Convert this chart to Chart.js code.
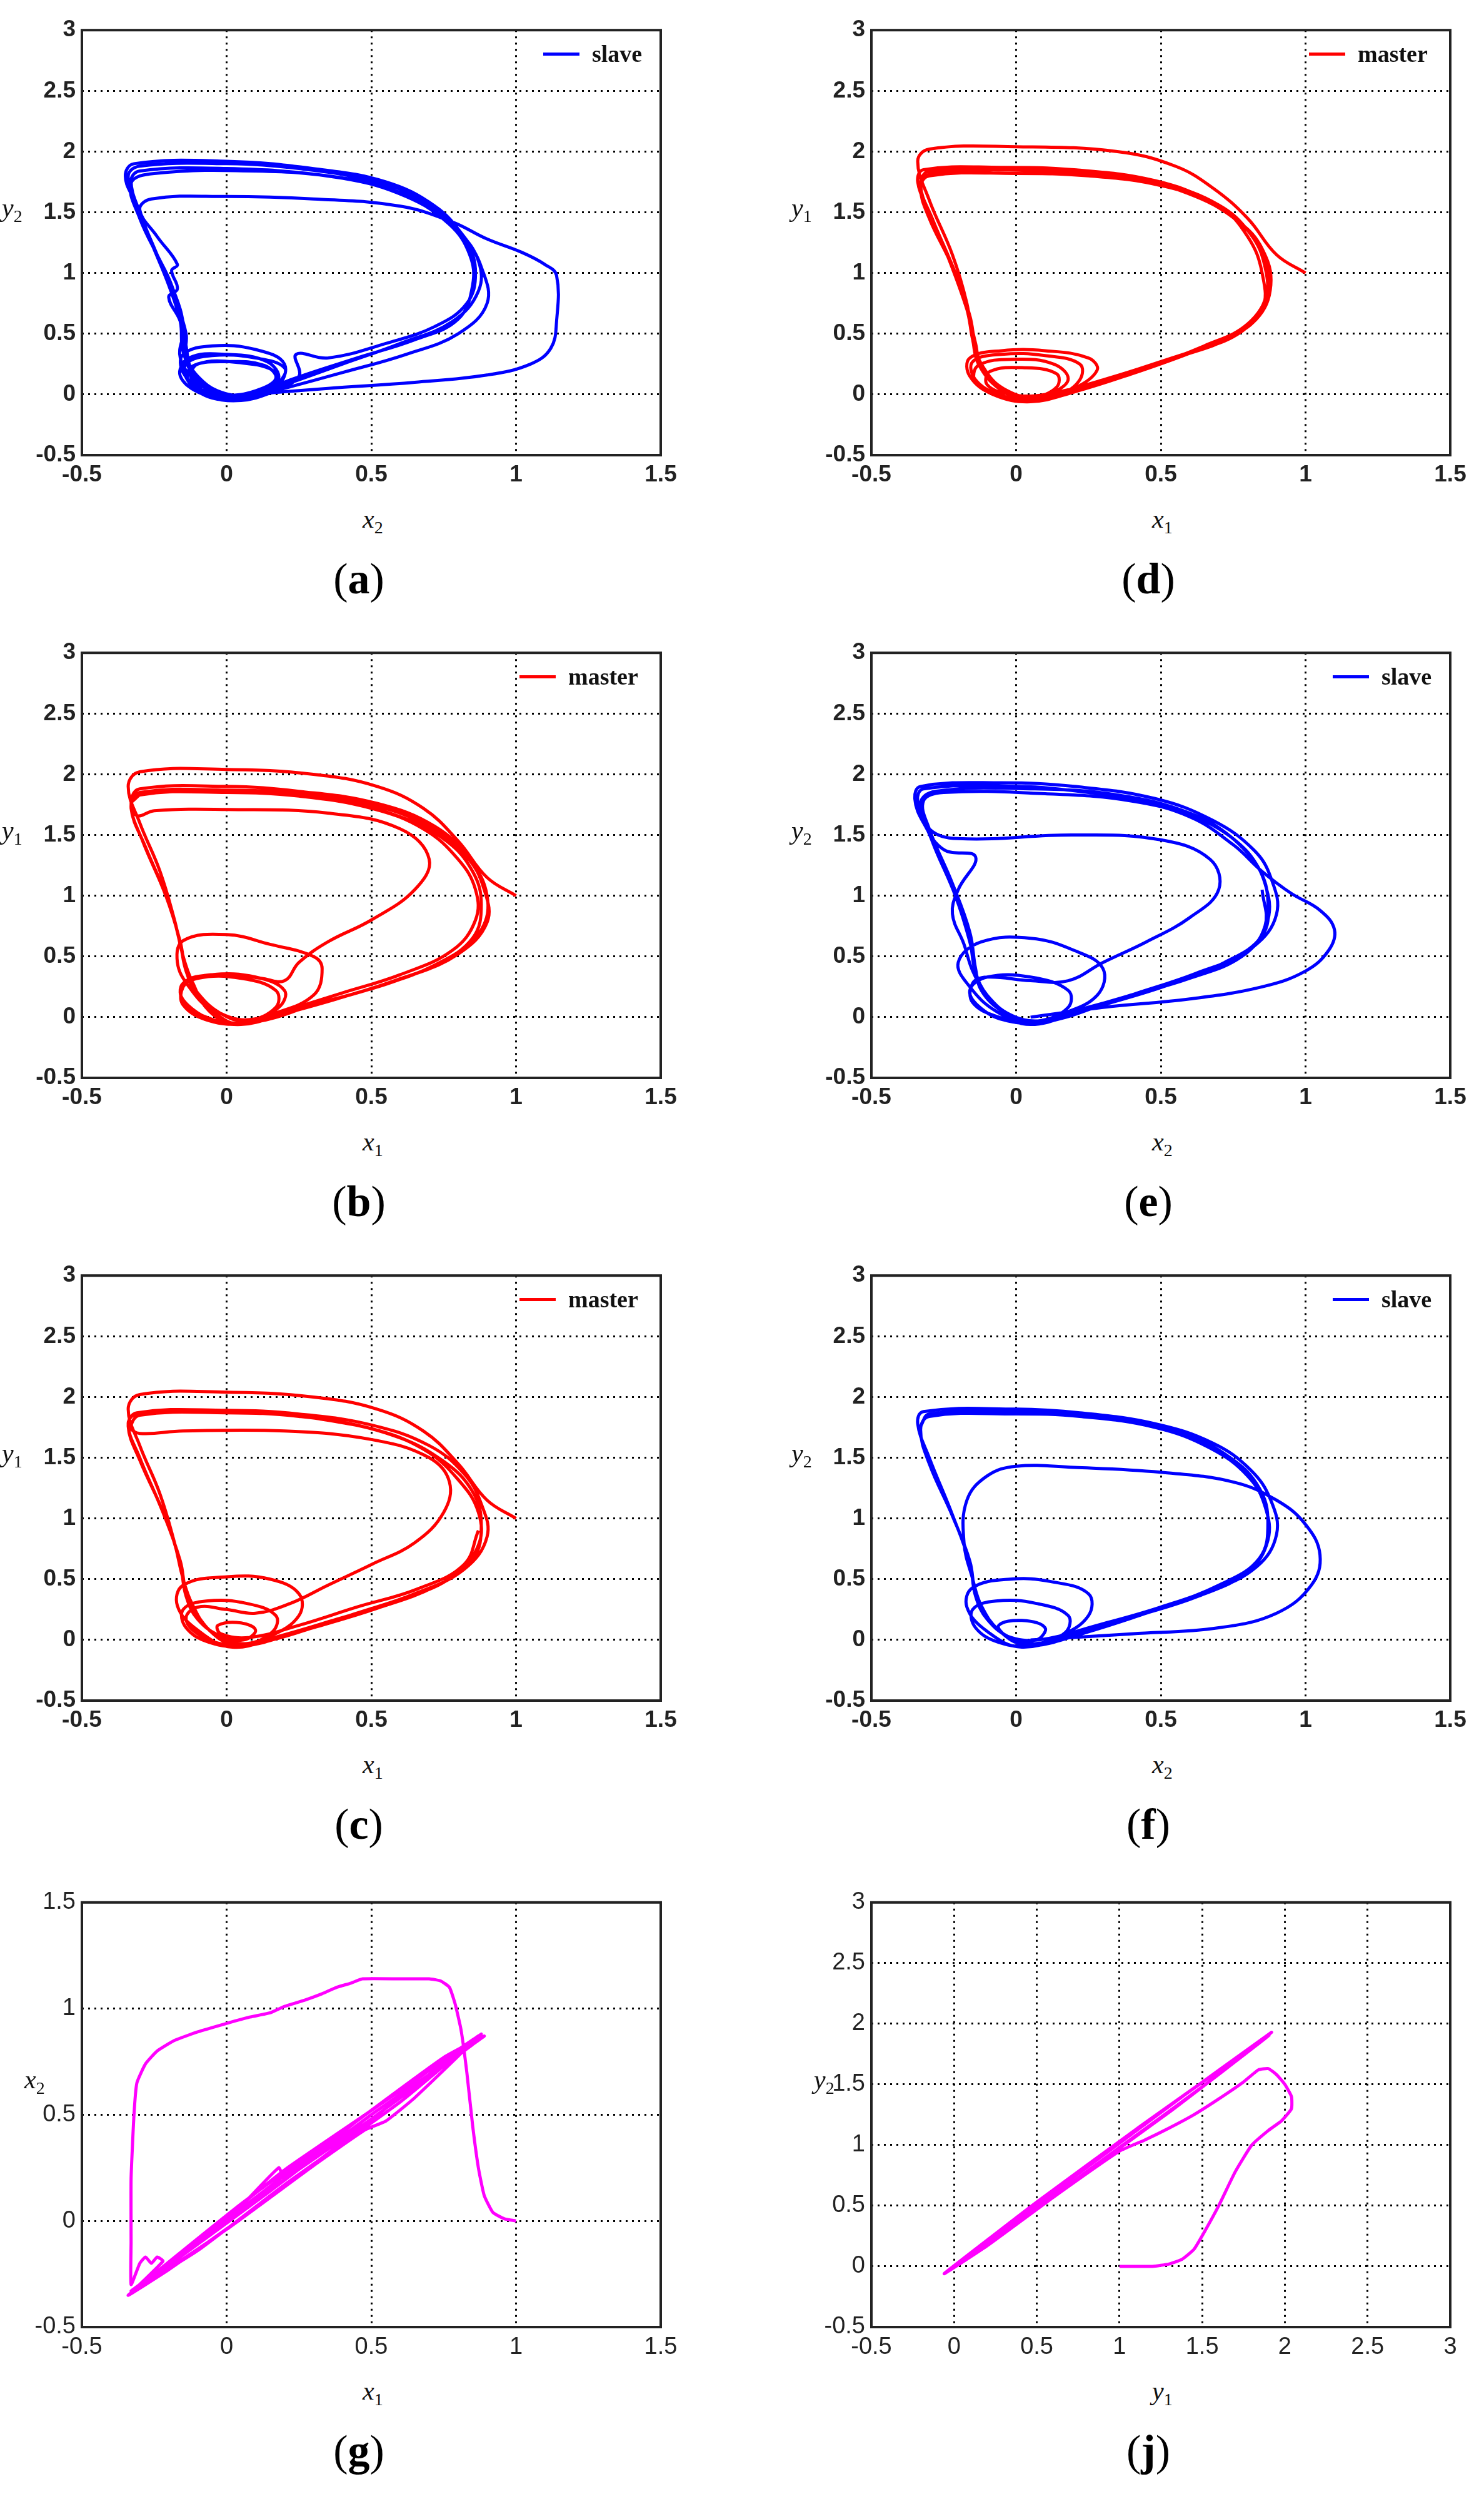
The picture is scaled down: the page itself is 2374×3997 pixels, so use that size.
<!DOCTYPE html>
<html>
<head>
<meta charset="utf-8">
<script src="https://cdn.jsdelivr.net/npm/chart.js"></script>
<style>
  body { margin:0; background:#fff; width:2374px; height:3997px; position:relative; overflow:hidden; }
  .cv { position:absolute; }
  .lab { position:absolute; font-family:"Liberation Serif", serif; font-style:italic; font-size:42px; color:#111; white-space:nowrap; }
  .lab sub { font-style:normal; font-size:28px; }
  .cap { position:absolute; font-family:"Liberation Serif", serif; font-size:70px; color:#000; transform:translateX(-50%); }
  .leg { position:absolute; font-family:"Liberation Serif", serif; font-weight:bold; font-size:38px; color:#111; display:flex; align-items:center; }
  .leg span { display:inline-block; width:58px; height:5px; margin-right:20px; }
</style>
</head>
<body>
<script>
// --- Data: trajectories ---
const trajA = [[0.08,0.0],[0.35,0.05],[0.65,0.1],[0.9,0.16],[1.05,0.25],[1.12,0.38],[1.14,0.6],[1.14,0.98],[1.1,1.07],[1.02,1.17],[0.9,1.28],[0.78,1.42],[0.6,1.55],[0.3,1.61],[0,1.63],[-0.26,1.61],[-0.3,1.52],[-0.24,1.3],[-0.17,1.07],[-0.19,1.02],[-0.17,0.87],[-0.2,0.8],[-0.16,0.6],[-0.15,0.42],[-0.14,0.28],[-0.09,0.1],[0.0,0.0],[0.1,0.03],[0.17,0.13],[0.13,0.24],[0.0,0.27],[-0.12,0.23],[-0.13,0.1],[-0.05,-0.02],[0.05,-0.04],[0.17,0.05],[0.2,0.25],[0.1,0.37],[-0.05,0.4],[-0.15,0.33],[-0.15,0.18],[-0.08,0.03],[0.03,-0.05],[0.15,0.02],[0.25,0.15],[0.24,0.33],[0.35,0.3],[0.55,0.42],[0.72,0.56],[0.83,0.75],[0.86,1.0],[0.83,1.25],[0.74,1.48],[0.58,1.68],[0.35,1.8],[0,1.86],[-0.3,1.84],[-0.33,1.76],[-0.3,1.5],[-0.24,1.15],[-0.18,0.8],[-0.14,0.5],[-0.14,0.32],[-0.1,0.15],[-0.02,0.02],[0.08,0.0],[0.18,0.1],[0.2,0.22],[0.1,0.3],[-0.05,0.32],[-0.14,0.25],[-0.13,0.1],[-0.05,-0.03],[0.05,-0.03],[0.2,0.08],[0.4,0.25],[0.6,0.42],[0.78,0.6],[0.87,0.85],[0.87,1.1],[0.8,1.35],[0.68,1.6],[0.5,1.76],[0.25,1.86],[0,1.9],[-0.3,1.88],[-0.34,1.8],[-0.31,1.55],[-0.26,1.25],[-0.2,0.9],[-0.16,0.6],[-0.15,0.35],[-0.1,0.12],[0,0.0],[0.12,0.03],[0.18,0.13],[0.14,0.27],[0.0,0.33],[-0.13,0.3],[-0.16,0.15],[-0.08,0.0],[0.05,-0.05],[0.2,0.05],[0.4,0.18],[0.62,0.33],[0.8,0.5],[0.9,0.75],[0.88,1.05],[0.82,1.3],[0.72,1.55],[0.55,1.75],[0.3,1.86],[0,1.92],[-0.32,1.9],[-0.35,1.8],[-0.32,1.6],[-0.25,1.2],[-0.19,0.9],[-0.15,0.55],[-0.16,0.3],[-0.1,0.1],[0,-0.02],[0.12,0.02],[0.22,0.12],[0.45,0.3],[0.65,0.45],[0.8,0.62],[0.85,0.9],[0.84,1.15],[0.77,1.4],[0.62,1.63],[0.4,1.78],[0.1,1.84],[-0.25,1.82],[-0.33,1.74],[-0.3,1.45],[-0.22,1.05],[-0.16,0.7],[-0.14,0.4],[-0.12,0.2],[-0.05,0.03],[0.05,-0.02],[0.15,0.05],[0.17,0.18],[0.05,0.26],[-0.1,0.25],[-0.12,0.12],[-0.03,0.02]];

const trajD = [[1.0,1.0],[0.9,1.15],[0.8,1.45],[0.68,1.7],[0.55,1.88],[0.35,2.0],[0,2.04],[-0.3,2.02],[-0.34,1.92],[-0.3,1.6],[-0.22,1.15],[-0.17,0.75],[-0.15,0.45],[-0.12,0.25],[-0.05,0.05],[0.03,-0.04],[0.15,0.0],[0.22,0.12],[0.22,0.25],[0.1,0.32],[-0.05,0.33],[-0.15,0.27],[-0.14,0.12],[-0.06,0.0],[0.05,-0.05],[0.18,0.03],[0.35,0.15],[0.55,0.3],[0.75,0.48],[0.85,0.7],[0.85,1.0],[0.8,1.3],[0.7,1.55],[0.5,1.72],[0.25,1.8],[0,1.82],[-0.3,1.8],[-0.33,1.7],[-0.3,1.45],[-0.22,1.05],[-0.17,0.7],[-0.15,0.45],[-0.13,0.25],[-0.06,0.05],[0.03,-0.04],[0.13,0.02],[0.18,0.13],[0.13,0.25],[0,0.29],[-0.13,0.24],[-0.14,0.1],[-0.05,-0.02],[0.08,-0.04],[0.25,0.08],[0.45,0.22],[0.65,0.4],[0.8,0.58],[0.87,0.85],[0.86,1.1],[0.8,1.35],[0.68,1.58],[0.48,1.76],[0.2,1.85],[-0.05,1.87],[-0.32,1.85],[-0.34,1.75],[-0.3,1.5],[-0.23,1.1],[-0.17,0.7],[-0.14,0.42],[-0.12,0.22],[-0.04,0.02],[0.06,-0.04],[0.2,0.05],[0.28,0.2],[0.25,0.3],[0.1,0.36],[-0.05,0.36],[-0.16,0.3],[-0.16,0.15],[-0.08,0.0],[0.05,-0.06],[0.2,0.02],[0.4,0.17],[0.6,0.34],[0.78,0.52],[0.86,0.78],[0.86,1.05],[0.81,1.32],[0.7,1.56],[0.5,1.74],[0.25,1.84],[0,1.86],[-0.3,1.84],[-0.33,1.72],[-0.29,1.45],[-0.21,1.0],[-0.16,0.65],[-0.14,0.4],[-0.11,0.2],[-0.03,0.03],[0.06,-0.02],[0.14,0.06],[0.14,0.17],[0.03,0.22],[-0.09,0.19],[-0.1,0.08],[-0.02,0.0],[0.1,0.0],[0.3,0.12],[0.5,0.27],[0.7,0.44],[0.83,0.62],[0.88,0.9],[0.85,1.2],[0.77,1.42],[0.62,1.63],[0.4,1.78],[0.1,1.84],[-0.28,1.83],[-0.33,1.77]];

const trajB = [[1.0,1.0],[0.9,1.15],[0.8,1.45],[0.68,1.72],[0.52,1.9],[0.3,2.0],[0,2.04],[-0.3,2.02],[-0.34,1.9],[-0.3,1.6],[-0.23,1.2],[-0.18,0.8],[-0.15,0.5],[-0.12,0.3],[-0.06,0.05],[0.03,-0.05],[0.15,0.02],[0.3,0.18],[0.33,0.4],[0.3,0.5],[0.15,0.6],[0,0.68],[-0.15,0.63],[-0.17,0.45],[-0.13,0.25],[-0.05,0.05],[0.05,-0.06],[0.2,0.05],[0.4,0.2],[0.6,0.35],[0.78,0.55],[0.86,0.8],[0.86,1.05],[0.8,1.3],[0.68,1.55],[0.5,1.72],[0.25,1.82],[0,1.85],[-0.3,1.83],[-0.33,1.72],[-0.28,1.4],[-0.2,0.95],[-0.16,0.6],[-0.14,0.38],[-0.1,0.18],[-0.02,0.03],[0.08,-0.02],[0.18,0.08],[0.2,0.22],[0.1,0.33],[-0.05,0.35],[-0.15,0.28],[-0.15,0.13],[-0.07,0.0],[0.05,-0.06],[0.2,0.03],[0.38,0.15],[0.58,0.3],[0.77,0.48],[0.88,0.72],[0.9,1.0],[0.84,1.3],[0.72,1.57],[0.52,1.76],[0.25,1.86],[0,1.9],[-0.3,1.88],[-0.33,1.78],[-0.31,1.66],[-0.25,1.7],[0,1.71],[0.35,1.68],[0.6,1.55],[0.7,1.3],[0.65,1.05],[0.5,0.8],[0.35,0.62],[0.25,0.45],[0.2,0.3],[0.12,0.32],[0,0.35],[-0.1,0.33],[-0.15,0.25],[-0.15,0.1],[-0.06,-0.03],[0.06,-0.05],[0.2,0.05],[0.42,0.18],[0.62,0.33],[0.8,0.52],[0.9,0.78],[0.89,1.05],[0.83,1.32],[0.7,1.57],[0.5,1.75],[0.25,1.84],[0,1.87],[-0.3,1.85],[-0.33,1.74],[-0.29,1.45],[-0.21,1.0],[-0.16,0.62],[-0.14,0.38],[-0.1,0.2],[-0.02,0.03],[0.07,-0.03],[0.17,0.08],[0.17,0.22],[0.05,0.32],[-0.1,0.32],[-0.16,0.22],[-0.12,0.07],[-0.03,-0.03],[0.1,-0.04],[0.3,0.1],[0.52,0.25],[0.72,0.43],[0.85,0.65],[0.88,0.93],[0.85,1.2],[0.76,1.45],[0.6,1.65],[0.35,1.8],[0.05,1.86],[-0.28,1.85],[-0.33,1.77]];

const trajE = [[0.05,0.0],[0.3,0.08],[0.6,0.15],[0.85,0.25],[1.0,0.38],[1.08,0.55],[1.1,0.72],[1.05,0.88],[0.95,1.02],[0.85,1.2],[0.75,1.42],[0.6,1.65],[0.4,1.78],[0.1,1.84],[-0.25,1.85],[-0.32,1.78],[-0.3,1.55],[-0.22,1.1],[-0.16,0.7],[-0.14,0.4],[-0.12,0.22],[-0.05,0.05],[0.04,-0.04],[0.15,0.02],[0.28,0.18],[0.3,0.4],[0.2,0.55],[0.05,0.65],[-0.12,0.62],[-0.2,0.45],[-0.16,0.25],[-0.07,0.05],[0.05,-0.06],[0.22,0.05],[0.42,0.2],[0.62,0.36],[0.8,0.55],[0.87,0.8],[0.86,1.1],[0.8,1.35],[0.68,1.58],[0.5,1.75],[0.25,1.85],[0,1.9],[-0.32,1.88],[-0.34,1.78],[-0.3,1.55],[-0.2,1.47],[0.2,1.5],[0.5,1.46],[0.67,1.3],[0.7,1.05],[0.6,0.82],[0.45,0.62],[0.3,0.45],[0.18,0.3],[0.05,0.3],[-0.1,0.33],[-0.15,0.28],[-0.15,0.12],[-0.06,0.0],[0.06,-0.05],[0.22,0.06],[0.45,0.22],[0.65,0.38],[0.82,0.58],[0.9,0.85],[0.88,1.15],[0.82,1.38],[0.68,1.62],[0.48,1.8],[0.2,1.9],[-0.05,1.93],[-0.33,1.9],[-0.35,1.8],[-0.32,1.6],[-0.25,1.38],[-0.14,1.32],[-0.2,1.05],[-0.22,0.85],[-0.18,0.6],[-0.15,0.38],[-0.1,0.18],[-0.02,0.02],[0.08,-0.03],[0.18,0.08],[0.18,0.22],[0.05,0.33],[-0.1,0.33],[-0.16,0.22],[-0.12,0.07],[-0.03,-0.03],[0.1,-0.04],[0.3,0.1],[0.52,0.26],[0.72,0.45],[0.85,0.67],[0.87,0.95],[0.84,1.22],[0.75,1.47],[0.6,1.68],[0.35,1.83],[0.05,1.88],[-0.28,1.86],[-0.33,1.76],[-0.29,1.45],[-0.21,1.0],[-0.16,0.62],[-0.14,0.37],[-0.1,0.18],[-0.02,0.02],[0.08,-0.03],[0.2,0.05],[0.4,0.18],[0.6,0.32],[0.78,0.5],[0.86,0.75],[0.85,1.05]];

const trajC = [[1.0,1.0],[0.9,1.15],[0.8,1.45],[0.68,1.72],[0.52,1.9],[0.3,2.0],[0,2.04],[-0.3,2.02],[-0.34,1.9],[-0.3,1.6],[-0.23,1.2],[-0.18,0.8],[-0.15,0.5],[-0.12,0.3],[-0.06,0.08],[0.03,-0.04],[0.15,0.03],[0.25,0.2],[0.25,0.38],[0.15,0.5],[0,0.52],[-0.15,0.45],[-0.17,0.28],[-0.1,0.08],[0.02,-0.06],[0.18,0.03],[0.38,0.17],[0.6,0.33],[0.78,0.52],[0.87,0.78],[0.87,1.05],[0.8,1.32],[0.68,1.57],[0.5,1.74],[0.25,1.84],[0,1.87],[-0.3,1.85],[-0.33,1.75],[-0.3,1.7],[-0.15,1.72],[0.2,1.72],[0.5,1.65],[0.7,1.5],[0.77,1.3],[0.75,1.05],[0.65,0.8],[0.5,0.62],[0.35,0.45],[0.22,0.3],[0.1,0.22],[0,0.25],[-0.1,0.27],[-0.14,0.18],[-0.1,0.05],[0,-0.04],[0.12,-0.02],[0.3,0.1],[0.52,0.26],[0.72,0.44],[0.85,0.66],[0.88,0.95],[0.85,1.22],[0.75,1.47],[0.58,1.68],[0.32,1.82],[0.05,1.88],[-0.3,1.87],[-0.34,1.78],[-0.3,1.5],[-0.22,1.05],[-0.16,0.65],[-0.14,0.4],[-0.1,0.2],[-0.03,0.03],[0.07,-0.03],[0.16,0.07],[0.17,0.2],[0.07,0.3],[-0.07,0.32],[-0.15,0.25],[-0.14,0.1],[-0.06,-0.02],[0.06,-0.05],[0.24,0.06],[0.45,0.22],[0.65,0.38],[0.82,0.58],[0.9,0.85],[0.88,1.12],[0.82,1.37],[0.7,1.6],[0.5,1.77],[0.25,1.86],[0,1.89],[-0.31,1.87],[-0.34,1.76],[-0.3,1.48],[-0.21,1.0],[-0.16,0.62],[-0.14,0.36],[-0.1,0.17],[-0.02,0.03],[0.06,0.0],[0.1,0.08],[0.05,0.14],[-0.03,0.12],[-0.02,0.05],[0.08,0.02],[0.25,0.12],[0.45,0.27],[0.66,0.42],[0.82,0.62],[0.87,0.9]];

const trajF = [[0.05,0.0],[0.4,0.05],[0.7,0.1],[0.9,0.22],[1.02,0.45],[1.05,0.7],[1.0,0.95],[0.9,1.15],[0.75,1.3],[0.5,1.38],[0.2,1.42],[0,1.43],[-0.1,1.35],[-0.17,1.15],[-0.18,0.8],[-0.15,0.5],[-0.12,0.28],[-0.06,0.08],[0.03,-0.04],[0.15,0.03],[0.25,0.2],[0.25,0.38],[0.12,0.48],[-0.02,0.5],[-0.15,0.43],[-0.17,0.27],[-0.1,0.07],[0.02,-0.06],[0.2,0.05],[0.42,0.2],[0.63,0.36],[0.8,0.56],[0.87,0.82],[0.86,1.1],[0.8,1.35],[0.67,1.58],[0.48,1.75],[0.22,1.84],[0,1.86],[-0.3,1.84],[-0.33,1.73],[-0.3,1.45],[-0.22,1.02],[-0.16,0.65],[-0.14,0.38],[-0.1,0.18],[-0.03,0.03],[0.07,-0.03],[0.17,0.06],[0.18,0.2],[0.07,0.3],[-0.07,0.32],[-0.15,0.25],[-0.14,0.1],[-0.06,-0.02],[0.06,-0.05],[0.24,0.06],[0.45,0.22],[0.66,0.39],[0.83,0.6],[0.9,0.87],[0.88,1.15],[0.81,1.4],[0.68,1.62],[0.48,1.78],[0.22,1.87],[0,1.9],[-0.32,1.88],[-0.34,1.78],[-0.3,1.5],[-0.22,1.03],[-0.16,0.63],[-0.14,0.36],[-0.1,0.17],[-0.02,0.02],[0.07,0.0],[0.1,0.1],[0.02,0.16],[-0.06,0.12],[-0.03,0.03],[0.08,0.0],[0.28,0.12],[0.5,0.27],[0.7,0.45],[0.84,0.67],[0.87,0.97],[0.84,1.25],[0.74,1.5],[0.57,1.7],[0.3,1.83],[0.02,1.88],[-0.3,1.86],[-0.33,1.76]];

const trajG = [[1.0,0.0],[0.96,0.01],[0.92,0.04],[0.89,0.12],[0.87,0.25],[0.85,0.45],[0.83,0.7],[0.81,0.9],[0.79,1.02],[0.77,1.1],[0.74,1.13],[0.7,1.14],[0.6,1.14],[0.47,1.14],[0.43,1.12],[0.38,1.1],[0.33,1.07],[0.27,1.04],[0.2,1.01],[0.15,0.98],[0.08,0.96],[0.0,0.93],[-0.1,0.89],[-0.18,0.85],[-0.24,0.8],[-0.28,0.74],[-0.31,0.65],[-0.32,0.5],[-0.33,0.2],[-0.33,-0.1],[-0.33,-0.3],[-0.3,-0.2],[-0.28,-0.17],[-0.26,-0.2],[-0.24,-0.17],[-0.22,-0.19],[-0.33,-0.34],[-0.1,-0.1],[0.1,0.11],[0.3,0.32],[0.6,0.62],[0.88,0.88],[0.7,0.69],[0.4,0.37],[0.1,0.06],[-0.2,-0.23],[-0.34,-0.35],[0.0,0.02],[0.2,0.24],[0.5,0.52],[0.86,0.86],[0.65,0.58],[0.55,0.47],[0.48,0.43],[0.3,0.26],[0.0,-0.04],[-0.32,-0.33],[0.05,0.08],[0.35,0.38],[0.65,0.66],[0.87,0.87],[0.6,0.56],[0.2,0.17],[-0.1,-0.14],[-0.33,-0.33],[0.0,0.0],[0.18,0.25],[0.2,0.2],[0.45,0.47],[0.75,0.77],[0.89,0.87],[0.5,0.5],[0.15,0.14],[-0.15,-0.16],[-0.33,-0.34],[0.1,0.1],[0.5,0.48],[0.85,0.83]];

const trajJ = [[1.0,0.0],[1.1,0.0],[1.2,0.0],[1.3,0.02],[1.38,0.06],[1.45,0.14],[1.52,0.3],[1.6,0.5],[1.7,0.78],[1.8,1.0],[1.9,1.12],[1.98,1.2],[2.04,1.3],[2.04,1.4],[2.0,1.5],[1.95,1.58],[1.9,1.63],[1.84,1.62],[1.75,1.52],[1.6,1.38],[1.45,1.25],[1.3,1.14],[1.15,1.04],[1.0,0.95],[0.6,0.57],[0.2,0.17],[-0.06,-0.06],[0.3,0.32],[0.8,0.82],[1.3,1.32],[1.92,1.93],[1.5,1.48],[1.0,0.98],[0.4,0.38],[-0.05,-0.05],[0.5,0.53],[1.1,1.13],[1.9,1.9],[1.3,1.27],[0.7,0.68],[0.0,0.0],[0.6,0.61],[1.4,1.42],[1.91,1.91]];

const tickFontMain = { family:'"Liberation Sans", Arial, sans-serif', size:37, weight:'bold' };
const tickFontNarrow = { family:'"Liberation Sans Narrow", "Liberation Sans", sans-serif', size:38 };

// --- Layout ---
const colLeft = [131, 1394], rowTop = [36, 1032, 2028, 3030];
const plotW = 926, plotH = 692, yAxisW = 112, xAxisH = 70, padTop = 20, padRight = 50;

const panels = [
  { traj: trajA, color:'#0000ff', col:0, row:0, xl:['x','2'], yl:['y','2'], leg:'slave', cap:'a' },
  { traj: trajD, color:'#ff0000', col:1, row:0, xl:['x','1'], yl:['y','1'], leg:'master', cap:'d' },
  { traj: trajB, color:'#ff0000', col:0, row:1, xl:['x','1'], yl:['y','1'], leg:'master', cap:'b' },
  { traj: trajE, color:'#0000ff', col:1, row:1, xl:['x','2'], yl:['y','2'], leg:'slave', cap:'e' },
  { traj: trajC, color:'#ff0000', col:0, row:2, xl:['x','1'], yl:['y','1'], leg:'master', cap:'c' },
  { traj: trajF, color:'#0000ff', col:1, row:2, xl:['x','2'], yl:['y','2'], leg:'slave', cap:'f' },
  { traj: trajG, color:'#ff00ff', col:0, row:3, xl:['x','1'], yl:['x','2'], cap:'g', ymax:1.5, narrow:true, tension:0.15 },
  { traj: trajJ, color:'#ff00ff', col:1, row:3, xl:['y','1'], yl:['y','2'], cap:'j', xmax:3, narrow:true, tension:0.15 }
];

const framePlugin = {
  id: 'frame',
  afterDraw(chart) {
    const a = chart.chartArea, c = chart.ctx;
    c.save(); c.strokeStyle = '#222'; c.lineWidth = 4; c.setLineDash([]);
    c.strokeRect(a.left, a.top, a.right - a.left, a.bottom - a.top);
    c.restore();
  }
};

function add(tag, cls, html, style) {
  const el = document.createElement(tag);
  el.className = cls; el.innerHTML = html;
  Object.assign(el.style, style);
  document.body.appendChild(el);
  return el;
}

const fmt = v => String(Math.round(v * 10) / 10);

panels.forEach(p => {
  const L = colLeft[p.col], T = rowTop[p.row];
  const canvasBox = add('div', 'cv', '', {
    left:(L - yAxisW) + 'px', top:(T - padTop) + 'px',
    width:(yAxisW + plotW + padRight) + 'px', height:(padTop + plotH + xAxisH) + 'px'
  });
  const cv = document.createElement('canvas');
  canvasBox.appendChild(cv);
  const font = p.narrow ? tickFontNarrow : tickFontMain;
  const grid = { color:'#000', lineWidth:3 };
  new Chart(cv, {
    type: 'scatter',
    data: { datasets: [{
      data: p.traj.map(([x, y]) => ({ x, y })),
      showLine: true, borderColor: p.color, borderWidth: 5,
      pointRadius: 0, tension: p.tension ?? 0.4, fill: false
    }]},
    options: {
      animation:false, responsive:true, maintainAspectRatio:false, devicePixelRatio:1,
      layout: { padding: { top: padTop, right: padRight, left:0, bottom:0 } },
      plugins: { legend:{ display:false }, tooltip:{ enabled:false } },
      scales: {
        x: { type:'linear', min:-0.5, max:p.xmax ?? 1.5,
             ticks:{ stepSize:0.5, color:'#222', font, padding:10, callback: fmt },
             grid:{ ...grid, drawTicks:false }, border:{ display:false, dash:[3,7] },
             afterFit(s){ s.height = xAxisH; } },
        y: { type:'linear', min:-0.5, max:p.ymax ?? 3,
             ticks:{ stepSize:0.5, color:'#222', font, padding:10, callback: fmt },
             grid:{ ...grid, drawTicks:false }, border:{ display:false, dash:[3,7] },
             afterFit(s){ s.width = yAxisW; } }
      }
    },
    plugins: [framePlugin]
  });

  add('div', 'lab', p.xl[0] + '<sub>' + p.xl[1] + '</sub>',
      { left:(L + plotW/2 - 14) + 'px', top:(T + plotH + 78) + 'px' });
  add('div', 'lab', p.yl[0] + '<sub>' + p.yl[1] + '</sub>',
      { left:(L - (p.narrow ? 92 : 128)) + 'px', top:(T + 272) + 'px' });
  add('div', 'cap', '(<b>' + p.cap + '</b>)',
      { left:(L + plotW/2 - 20) + 'px', top:(T + plotH + 158) + 'px' });
  if (p.leg) {
    add('div', 'leg', '<span style="background:' + p.color + '"></span>' + p.leg,
        { left:(L + (p.leg === 'master' ? 700 : 738)) + 'px', top:(T + 28) + 'px' });
  }
});
</script>
</body>
</html>
